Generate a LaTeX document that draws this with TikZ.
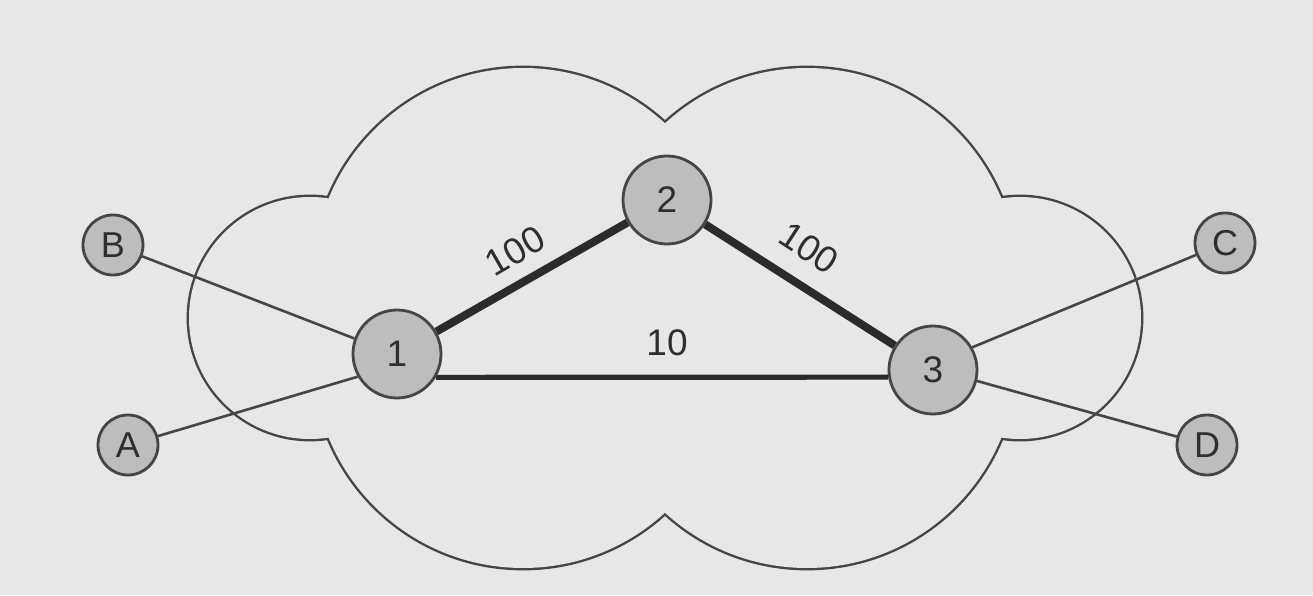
\documentclass[tikz,border=0pt]{standalone}
\usepackage{fontspec}
\setmainfont{Liberation Sans}
\definecolor{bgc}{HTML}{E7E7E7}
\definecolor{nodefill}{HTML}{BDBDBD}
\definecolor{edgec}{HTML}{454545}
\definecolor{darkc}{HTML}{2B2B2B}
\definecolor{txtc}{HTML}{2E2E2E}
\pgfdeclarelayer{cloudlayer}
\pgfdeclarelayer{edgelayer}
\pgfsetlayers{cloudlayer,edgelayer,main}
\tikzset{
  router/.style={circle, draw=edgec, line width=1.4pt, fill=nodefill, inner sep=0pt,
    minimum size=44pt, font=\fontsize{18.5}{20}\selectfont, text=txtc},
  host/.style={circle, draw=edgec, line width=1.4pt, fill=nodefill, inner sep=0pt,
    minimum size=30pt, font=\fontsize{18}{20}\selectfont, text=txtc},
  heavy/.style={draw=darkc, line width=4pt},
  medium/.style={draw=darkc, line width=2.6pt},
  thinlink/.style={draw=edgec, line width=1.3pt},
  weight/.style={font=\fontsize{18.5}{20}\selectfont, text=txtc, inner sep=1pt},
  cloudstroke/.style={draw=edgec, line width=2.4pt},
  cloudfill/.style={fill=bgc}
}
\begin{document}
\begin{tikzpicture}[x=0.5pt, y=0.5pt]
  \begin{pgfonlayer}{cloudlayer}
    \fill[bgc] (0,0) rectangle (1313,595);
    % cloud: union of six circles
    \foreach \cx/\cy/\rr in {310/277/60.5pt, 1020/277/60.5pt, 523/317/105pt, 807/317/105pt, 523/237/105pt, 807/237/105pt}
      \draw[cloudstroke] (\cx,\cy) circle[radius=\rr];
    \foreach \cx/\cy/\rr in {310/277/60.5pt, 1020/277/60.5pt, 523/317/105pt, 807/317/105pt, 523/237/105pt, 807/237/105pt}
      \fill[cloudfill] (\cx,\cy) circle[radius=\rr];
  \end{pgfonlayer}
  \useasboundingbox (0,0) rectangle (1313,595);
  % nodes
  \node[router] (n1) at (397,241) {1};
  \node[router] (n2) at (667,395) {2};
  \node[router] (n3) at (933,225) {3};
  \node[host] (B) at (113,350) {B};
  \node[host] (A) at (128,150) {A};
  \node[host] (C) at (1225,352) {C};
  \node[host] (D) at (1207,150) {D};
  % links
  \begin{pgfonlayer}{edgelayer}
    \draw[thinlink] (B) -- (n1.160);
    \draw[thinlink] (A) -- (n1.210);
    \draw[thinlink] (n3.30) -- (C);
    \draw[thinlink] (n3.-14) -- (D);
    \draw[heavy] (n1) -- (n2);
    \draw[heavy] (n2) -- (n3);
    \draw[medium] (n1.-31) -- (n3.189);
  \end{pgfonlayer}
  % weights
  \node[weight, rotate=30] (w12) at (515,344) {100};
  \node[weight, rotate=-33] (w23) at (809,347) {100};
  \node[weight] (w13) at (667,252) {10};
\end{tikzpicture}
\end{document}
